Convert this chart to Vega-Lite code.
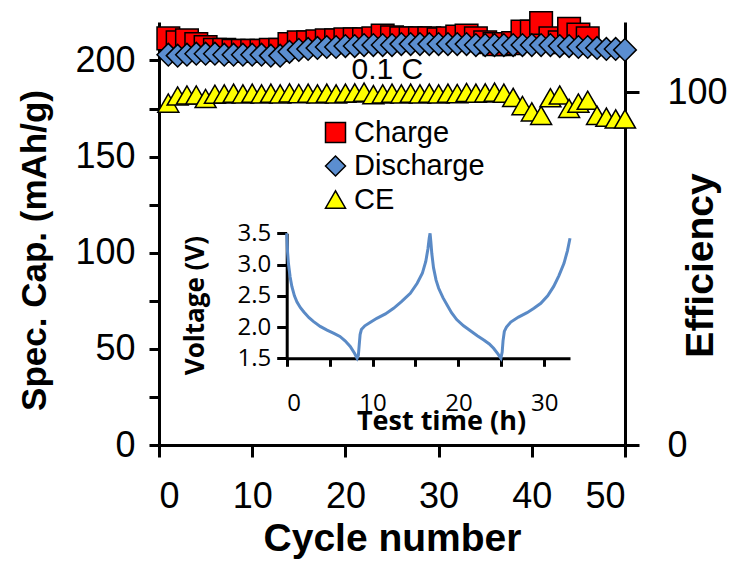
{
  "$schema": "https://vega.github.io/schema/vega-lite/v6.json",
  "width": 466,
  "height": 423,
  "autosize": "none",
  "padding": {"left": 159, "top": 22, "right": 106, "bottom": 121},
  "background": "white",
  "config": {
    "view": {"stroke": null},
    "font": "Liberation Sans",
    "axis": {"grid": false, "domainColor": "black", "domainWidth": 3, "tickColor": "black", "tickWidth": 3, "labelColor": "black", "titleColor": "black", "labelFont": "Liberation Sans", "titleFont": "Liberation Sans"},
    "legend": {"symbolStrokeColor": "black", "symbolStrokeWidth": 1.5, "symbolSize": 400, "labelFontSize": 29, "labelFont": "Liberation Sans", "labelColor": "black", "rowPadding": 3.5, "labelOffset": 4, "padding": 0}
  },
  "datasets": {
    "cycles": [
      {"cycle":1,"series":"Charge","value":211.5},{"cycle":2,"series":"Charge","value":209.5},{"cycle":3,"series":"Charge","value":210.5},{"cycle":4,"series":"Charge","value":208.5},{"cycle":5,"series":"Charge","value":207},
      {"cycle":6,"series":"Charge","value":205.5},{"cycle":7,"series":"Charge","value":205.5},{"cycle":8,"series":"Charge","value":205},{"cycle":9,"series":"Charge","value":205},{"cycle":10,"series":"Charge","value":205},
      {"cycle":11,"series":"Charge","value":205},{"cycle":12,"series":"Charge","value":205.5},{"cycle":13,"series":"Charge","value":205.5},{"cycle":14,"series":"Charge","value":208.5},{"cycle":15,"series":"Charge","value":209.5},
      {"cycle":16,"series":"Charge","value":209.5},{"cycle":17,"series":"Charge","value":210},{"cycle":18,"series":"Charge","value":210.5},{"cycle":19,"series":"Charge","value":210.5},{"cycle":20,"series":"Charge","value":211},
      {"cycle":21,"series":"Charge","value":211},{"cycle":22,"series":"Charge","value":211},{"cycle":23,"series":"Charge","value":211.5},{"cycle":24,"series":"Charge","value":213},{"cycle":25,"series":"Charge","value":212},
      {"cycle":26,"series":"Charge","value":211.5},{"cycle":27,"series":"Charge","value":211.5},{"cycle":28,"series":"Charge","value":211.5},{"cycle":29,"series":"Charge","value":211.5},{"cycle":30,"series":"Charge","value":211},
      {"cycle":31,"series":"Charge","value":211.5},{"cycle":32,"series":"Charge","value":212.5},{"cycle":33,"series":"Charge","value":213},{"cycle":34,"series":"Charge","value":211.5},{"cycle":35,"series":"Charge","value":209.5},
      {"cycle":36,"series":"Charge","value":208.5},{"cycle":37,"series":"Charge","value":208.5},{"cycle":38,"series":"Charge","value":209},{"cycle":39,"series":"Charge","value":215},{"cycle":40,"series":"Charge","value":215},
      {"cycle":41,"series":"Charge","value":219.5},{"cycle":42,"series":"Charge","value":211.5},{"cycle":43,"series":"Charge","value":209.5},{"cycle":44,"series":"Charge","value":216.5},{"cycle":45,"series":"Charge","value":213.5},
      {"cycle":46,"series":"Charge","value":211.5},
      {"cycle":1,"series":"Discharge","value":203},{"cycle":2,"series":"Discharge","value":202.5},{"cycle":3,"series":"Discharge","value":203},{"cycle":4,"series":"Discharge","value":203.5},{"cycle":5,"series":"Discharge","value":203.5},
      {"cycle":6,"series":"Discharge","value":203.5},{"cycle":7,"series":"Discharge","value":203},{"cycle":8,"series":"Discharge","value":203},{"cycle":9,"series":"Discharge","value":203},{"cycle":10,"series":"Discharge","value":203},
      {"cycle":11,"series":"Discharge","value":203},{"cycle":12,"series":"Discharge","value":202.5},{"cycle":13,"series":"Discharge","value":202.5},{"cycle":14,"series":"Discharge","value":204.5},{"cycle":15,"series":"Discharge","value":205.5},
      {"cycle":16,"series":"Discharge","value":206},{"cycle":17,"series":"Discharge","value":206.5},{"cycle":18,"series":"Discharge","value":207},{"cycle":19,"series":"Discharge","value":207},{"cycle":20,"series":"Discharge","value":207.5},
      {"cycle":21,"series":"Discharge","value":207.5},{"cycle":22,"series":"Discharge","value":208},{"cycle":23,"series":"Discharge","value":208},{"cycle":24,"series":"Discharge","value":208},{"cycle":25,"series":"Discharge","value":208},
      {"cycle":26,"series":"Discharge","value":208.5},{"cycle":27,"series":"Discharge","value":208.5},{"cycle":28,"series":"Discharge","value":208.5},{"cycle":29,"series":"Discharge","value":208.5},{"cycle":30,"series":"Discharge","value":208.5},
      {"cycle":31,"series":"Discharge","value":208.5},{"cycle":32,"series":"Discharge","value":208.5},{"cycle":33,"series":"Discharge","value":208.5},{"cycle":34,"series":"Discharge","value":208},{"cycle":35,"series":"Discharge","value":208},
      {"cycle":36,"series":"Discharge","value":208},{"cycle":37,"series":"Discharge","value":208},{"cycle":38,"series":"Discharge","value":208},{"cycle":39,"series":"Discharge","value":208},{"cycle":40,"series":"Discharge","value":208},
      {"cycle":41,"series":"Discharge","value":208},{"cycle":42,"series":"Discharge","value":208},{"cycle":43,"series":"Discharge","value":207.5},{"cycle":44,"series":"Discharge","value":207.5},{"cycle":45,"series":"Discharge","value":207},
      {"cycle":46,"series":"Discharge","value":207},{"cycle":47,"series":"Discharge","value":206.5},{"cycle":48,"series":"Discharge","value":206},{"cycle":49,"series":"Discharge","value":206},{"cycle":50,"series":"Discharge","value":205.5},
      {"cycle":1,"series":"CE","value":97},{"cycle":2,"series":"CE","value":99},{"cycle":3,"series":"CE","value":99.3},{"cycle":4,"series":"CE","value":99.3},{"cycle":5,"series":"CE","value":98.3},
      {"cycle":6,"series":"CE","value":99.5},{"cycle":7,"series":"CE","value":99.6},{"cycle":8,"series":"CE","value":99.8},{"cycle":9,"series":"CE","value":99.6},{"cycle":10,"series":"CE","value":99.8},
      {"cycle":11,"series":"CE","value":99.6},{"cycle":12,"series":"CE","value":99.8},{"cycle":13,"series":"CE","value":99.6},{"cycle":14,"series":"CE","value":99.9},{"cycle":15,"series":"CE","value":99.7},
      {"cycle":16,"series":"CE","value":99.8},{"cycle":17,"series":"CE","value":99.6},{"cycle":18,"series":"CE","value":99.8},{"cycle":19,"series":"CE","value":99.6},{"cycle":20,"series":"CE","value":99.8},
      {"cycle":21,"series":"CE","value":99.9},{"cycle":22,"series":"CE","value":100.1},{"cycle":23,"series":"CE","value":99.4},{"cycle":24,"series":"CE","value":99.6},{"cycle":25,"series":"CE","value":99.8},
      {"cycle":26,"series":"CE","value":99.6},{"cycle":27,"series":"CE","value":99.8},{"cycle":28,"series":"CE","value":99.6},{"cycle":29,"series":"CE","value":99.8},{"cycle":30,"series":"CE","value":99.6},
      {"cycle":31,"series":"CE","value":99.8},{"cycle":32,"series":"CE","value":99.7},{"cycle":33,"series":"CE","value":100},{"cycle":34,"series":"CE","value":99.8},{"cycle":35,"series":"CE","value":99.9},
      {"cycle":36,"series":"CE","value":100.1},{"cycle":37,"series":"CE","value":99.8},{"cycle":38,"series":"CE","value":98.6},{"cycle":39,"series":"CE","value":96.3},{"cycle":40,"series":"CE","value":94.5},
      {"cycle":41,"series":"CE","value":93.5},{"cycle":42,"series":"CE","value":98.5},{"cycle":43,"series":"CE","value":99.3},{"cycle":44,"series":"CE","value":95.5},{"cycle":45,"series":"CE","value":97},
      {"cycle":46,"series":"CE","value":97.8},{"cycle":47,"series":"CE","value":93.5},{"cycle":48,"series":"CE","value":93},{"cycle":49,"series":"CE","value":92.5},{"cycle":50,"series":"CE","value":92.5}
    ],
    "volt": [
      {"t":0,"V":3.5},{"t":0.1,"V":3.2},{"t":0.2,"V":3.02},{"t":0.4,"V":2.8},{"t":0.6,"V":2.65},{"t":0.9,"V":2.5},{"t":1.2,"V":2.4},{"t":1.6,"V":2.31},{"t":2.0,"V":2.24},{"t":2.6,"V":2.15},
      {"t":3.1,"V":2.09},{"t":3.9,"V":2.01},{"t":4.7,"V":1.95},{"t":5.5,"V":1.9},{"t":6.2,"V":1.85},{"t":6.8,"V":1.78},{"t":7.4,"V":1.69},{"t":7.9,"V":1.58},{"t":8.2,"V":1.5},{"t":8.35,"V":1.55},
      {"t":8.45,"V":1.72},{"t":8.55,"V":1.88},{"t":8.7,"V":1.96},{"t":9.1,"V":2.02},{"t":9.8,"V":2.08},{"t":10.5,"V":2.14},{"t":11.5,"V":2.21},{"t":12.45,"V":2.3},{"t":13.4,"V":2.41},{"t":14.4,"V":2.54},
      {"t":15.2,"V":2.7},{"t":15.8,"V":2.86},{"t":16.2,"V":3.05},{"t":16.45,"V":3.25},{"t":16.6,"V":3.42},{"t":16.7,"V":3.5},{"t":16.8,"V":3.35},{"t":16.9,"V":3.18},{"t":17.1,"V":2.95},{"t":17.4,"V":2.75},
      {"t":17.7,"V":2.62},{"t":18.2,"V":2.47},{"t":18.7,"V":2.35},{"t":19.2,"V":2.23},{"t":19.8,"V":2.12},{"t":20.6,"V":2.02},{"t":21.4,"V":1.94},{"t":22.2,"V":1.86},{"t":23.0,"V":1.79},{"t":23.6,"V":1.73},
      {"t":24.1,"V":1.66},{"t":24.6,"V":1.57},{"t":24.95,"V":1.5},{"t":25.1,"V":1.6},{"t":25.2,"V":1.78},{"t":25.35,"V":1.93},{"t":25.6,"V":2.0},{"t":26.1,"V":2.08},{"t":27.0,"V":2.16},{"t":28.0,"V":2.23},
      {"t":28.8,"V":2.3},{"t":29.6,"V":2.38},{"t":30.4,"V":2.5},{"t":31.1,"V":2.65},{"t":31.7,"V":2.82},{"t":32.3,"V":3.02},{"t":32.7,"V":3.22},{"t":33.0,"V":3.42}
    ]
  },
  "layer": [
    {
      "data": {"name": "cycles"},
      "transform": [{"filter": "datum.series !== 'CE'"}],
      "mark": {"type": "point", "filled": true, "opacity": 1, "stroke": "black", "strokeWidth": 1.5, "size": 510},
      "encoding": {
        "x": {"field": "cycle", "type": "quantitative", "scale": {"domain": [0, 50], "nice": false},
          "axis": {"orient": "bottom", "values": [0, 10, 20, 30, 40, 50], "tickSize": 12, "labelPadding": 50, "labelBaseline": "alphabetic", "labelFontSize": 36,
            "title": "Cycle number", "titleFontSize": 39, "titleFontWeight": "bold", "titleBaseline": "alphabetic", "titleAlign": "center", "titleX": 233, "titleY": 105}},
        "y": {"field": "value", "type": "quantitative", "scale": {"domain": [0, 220], "nice": false},
          "axis": {"orient": "left", "values": [0, 25, 50, 75, 100, 125, 150, 175, 200], "labelExpr": "datum.value % 50 === 0 ? datum.label : ''", "tickSize": 10, "labelPadding": 14, "labelFontSize": 36,
            "title": "Spec. Cap. (mAh/g)", "titleFontSize": 35, "titleFontWeight": "bold", "titleAngle": 270, "titleAlign": "center", "titleBaseline": "middle", "titleX": -125, "titleY": 228}},
        "color": {"field": "series", "type": "nominal", "scale": {"domain": ["Charge", "Discharge", "CE"], "range": ["#ff0000", "#5b8ed0", "#ffff00"]},
          "legend": {"orient": "none", "legendX": 162, "legendY": 96, "title": null}},
        "shape": {"field": "series", "type": "nominal", "scale": {"domain": ["Charge", "Discharge", "CE"], "range": ["square", "diamond", "triangle-up"]},
          "legend": {"orient": "none", "legendX": 162, "legendY": 96, "title": null}}
      }
    },
    {
      "data": {"name": "cycles"},
      "transform": [{"filter": "datum.series === 'CE'"}],
      "mark": {"type": "point", "filled": true, "opacity": 1, "stroke": "black", "strokeWidth": 1.5, "size": 440},
      "encoding": {
        "x": {"field": "cycle", "type": "quantitative", "scale": {"domain": [0, 50], "nice": false}, "axis": null},
        "y": {"field": "value", "type": "quantitative", "scale": {"domain": [0, 120], "nice": false},
          "axis": {"orient": "right", "values": [0, 100], "tickSize": 14, "labelPadding": 28, "labelFontSize": 36,
            "title": "Efficiency", "titleFontSize": 39, "titleFontWeight": "bold", "titleAngle": 270, "titleAlign": "center", "titleBaseline": "middle", "titleX": 75, "titleY": 243}},
        "color": {"field": "series", "type": "nominal", "legend": {"orient": "none", "legendX": 162, "legendY": 96, "title": null}},
        "shape": {"field": "series", "type": "nominal", "legend": {"orient": "none", "legendX": 162, "legendY": 96, "title": null}}
      }
    },
    {
      "data": {"name": "volt"},
      "mark": {"type": "line", "color": "#5a8ac6", "strokeWidth": 3},
      "encoding": {
        "x": {"field": "t", "type": "quantitative", "scale": {"domain": [0, 33], "range": [127.7, 411], "nice": false, "zero": false},
          "axis": {"orient": "bottom", "offset": -86.7, "values": [0, 5, 10, 15, 20, 25, 30], "labelExpr": "datum.value % 10 === 0 ? datum.label : ''", "tickSize": 8, "labelPadding": 44, "labelBaseline": "alphabetic",
            "labelFont": "Open Sans", "labelFontSize": 24, "title": "Test time (h)", "titleFont": "Open Sans", "titleFontSize": 27, "titleFontWeight": "bold", "titleAlign": "center", "titleBaseline": "alphabetic", "titleX": 282, "titleY": 71}},
        "y": {"field": "V", "type": "quantitative", "scale": {"domain": [1.5, 3.5], "range": [336.3, 211.3], "nice": false, "zero": false},
          "axis": {"orient": "left", "offset": -127.7, "values": [1.5, 2, 2.5, 3, 3.5], "format": ".1f", "tickSize": 10, "labelPadding": 6,
            "labelFont": "Open Sans", "labelFontSize": 24, "title": "Voltage (V)", "titleFont": "Open Sans", "titleFontSize": 26, "titleFontWeight": "bold", "titleAngle": 270, "titleAlign": "center", "titleBaseline": "middle", "titleX": -91, "titleY": 283}}
      }
    },
    {
      "data": {"values": [{"label": "0.1 C"}]},
      "mark": {"type": "text", "fontSize": 30, "font": "Liberation Sans", "align": "center", "baseline": "middle", "color": "black"},
      "encoding": {
        "text": {"field": "label"},
        "x": {"datum": 24.5, "type": "quantitative", "scale": {"domain": [0, 50], "nice": false}, "axis": null},
        "y": {"datum": 195, "type": "quantitative", "scale": {"domain": [0, 220], "nice": false}, "axis": null}
      }
    }
  ],
  "resolve": {"scale": {"x": "independent", "y": "independent"}}
}
